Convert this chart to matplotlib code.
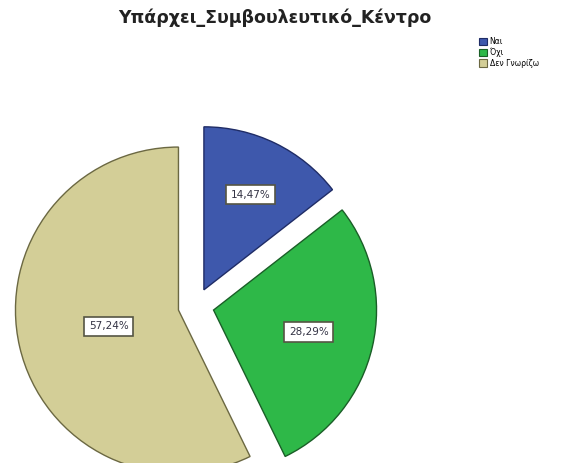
import numpy as np
import matplotlib.pyplot as plt
from matplotlib.patches import Patch

plt.rcParams['font.family'] = ['DejaVu Sans']

categories = ['Ναι', 'Όχι', 'Δεν Γνωρίζω']
percents = [14.47, 28.29, 57.24]
colors = ['#3E58AC', '#2EB848', '#D3CE97']
edges = ['#1F2C66', '#1A5E27', '#6B6842']
title = 'Υπάρχει_Συμβουλευτικό_Κέντρο'

W, H = 573, 463
fig = plt.figure(figsize=(W / 100, H / 100), dpi=100)
ax = fig.add_axes([0, 0, 1, 1])

radius = 163
center = (196, H - 306)

# explode is in data units here (pixels), not a fraction of the radius
wedges, _ = ax.pie(percents, colors=colors, startangle=90, counterclock=False,
                   explode=[18] * 3, radius=radius, center=center,
                   wedgeprops=dict(linewidth=1.0))
for w, ec in zip(wedges, edges):
    w.set_edgecolor(ec)

# pie() resets the view, so pin it to pixel units afterwards
ax.set_xlim(0, W)
ax.set_ylim(0, H)
ax.set_aspect('auto')
ax.axis('off')

# value boxes inside each slice
label_dist = [0.65, 0.6, 0.44]
for w, p, d in zip(wedges, percents, label_dist):
    ang = np.deg2rad((w.theta1 + w.theta2) / 2)
    cx, cy = w.center
    x = cx + d * radius * np.cos(ang)
    y = cy + d * radius * np.sin(ang)
    ax.text(x, y, f'{p:.2f}%'.replace('.', ','), ha='center', va='center',
            fontsize=7.5, color='#333344',
            bbox=dict(boxstyle='square,pad=0.45', fc='white', ec='#555544', lw=1.2))

fig.text(275 / W, 1 - 18 / H, title, ha='center', va='center',
         fontsize=12.5, fontweight='bold', color='#222222')

handles = [Patch(facecolor=c, edgecolor=e, lw=0.8) for c, e in zip(colors, edges)]
fig.legend(handles, categories, loc='upper left', bbox_to_anchor=(479 / W, 1 - 37 / H),
           frameon=False, fontsize=5.5, handlelength=1.1, handleheight=1.1,
           handletextpad=0.3, labelspacing=0.2, borderpad=0, borderaxespad=0)

fig.savefig('out.png', dpi=100)
